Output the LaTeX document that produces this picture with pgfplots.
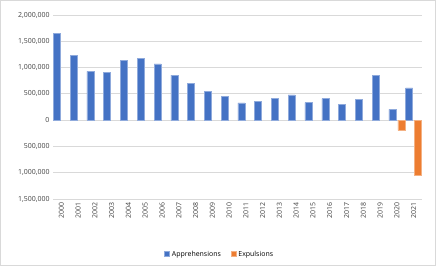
\documentclass[border=0pt]{standalone}
\usepackage{pgfplots}
\pgfplotsset{compat=1.18}
\usepackage{fontspec}
\setmainfont{Open Sans}
\definecolor{appblue}{HTML}{4472C4}
\definecolor{exporange}{HTML}{ED7D31}
\definecolor{gridgray}{HTML}{D9D9D9}
\begin{document}
\begin{tikzpicture}
\useasboundingbox (0,0) rectangle (436bp,266bp);
\draw[gridgray, line width=0.8bp] (0.5bp,0.5bp) rectangle (435.5bp,265.5bp);
\begin{axis}[
  at={(53bp,67bp)}, anchor=south west,
  scale only axis, width=369bp, height=184bp,
  ybar, bar width=7bp,
  xmin=-0.5, xmax=21.5,
  ymin=-1500000, ymax=2000000,
  xtick={0,...,21},
  xticklabels={2000,2001,2002,2003,2004,2005,2006,2007,2008,2009,2010,2011,2012,2013,2014,2015,2016,2017,2018,2019,2020,2021},
  xticklabel style={rotate=90, anchor=east, font=\fontsize{7}{8}\selectfont, text=black!75},
  ytick={-1500000,-1000000,-500000,0,500000,1000000,1500000,2000000},
  yticklabels={{1,500,000},{1,000,000},{500,000},0,{500,000},{1,000,000},{1,500,000},{2,000,000}},
  yticklabel style={font=\fontsize{7}{8}\selectfont, text=black!75},
  scaled y ticks=false,
  ymajorgrids, grid style={gridgray, line width=0.8bp},
  axis line style={draw=none},
  major tick length=0pt,
  legend style={at={(0.452,-0.30)}, anchor=center, draw=none, font=\fontsize{7}{8}\selectfont, legend columns=2, /tikz/every even column/.append style={column sep=8bp}},
  legend image code/.code={\fill[#1] (0bp,-2.5bp) rectangle (5bp,2.5bp);},
]
\addplot[fill=appblue, draw=appblue!60!white, line width=0.5bp] coordinates {
(0,1643679) (1,1235718) (2,929809) (3,905065) (4,1139282) (5,1171396) (6,1071972) (7,858638) (8,705005) (9,540865) (10,447731) (11,327577) (12,356873) (13,414397) (14,479371) (15,331333) (16,408870) (17,303916) (18,396579) (19,851508) (20,204000) (21,612000)
};
\addlegendentry{Apprehensions}
\addplot[fill=exporange, draw=exporange!60!white, line width=0.5bp] coordinates {
(20,-195000) (21,-1040000)
};
\addlegendentry{Expulsions}
\end{axis}
\end{tikzpicture}
\end{document}
